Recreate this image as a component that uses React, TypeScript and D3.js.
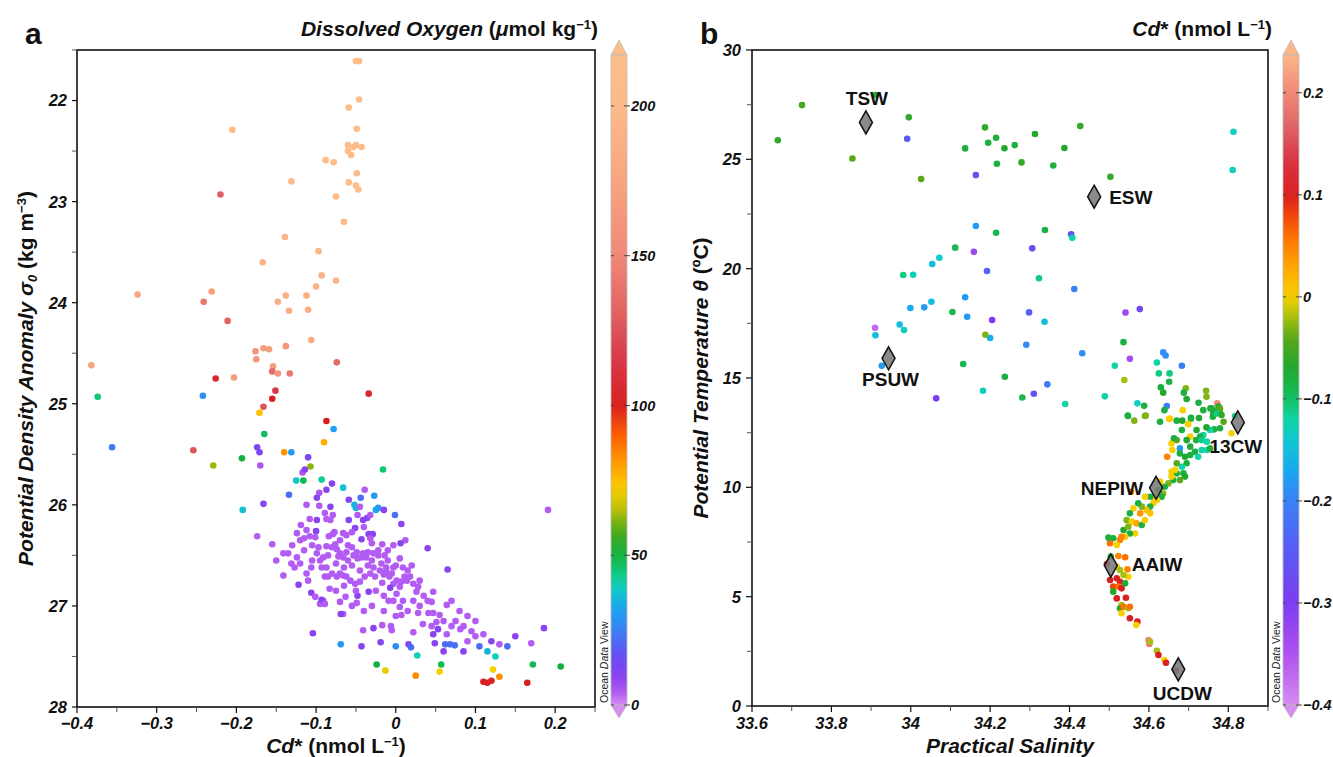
import React from 'react';
import * as d3 from 'd3';

// ---------------- DATA ----------------
// Panel a: [Cd* (nmol/L), sigma0 (kg/m3), dissolved O2 (umol/kg)]
const panelAPoints: [number, number, number][] = [
  [-0.050,21.61,216],[-0.046,21.61,216],[-0.046,21.99,214],[-0.059,22.07,213],[-0.205,22.29,205],[-0.049,22.28,212],
  [-0.060,22.44,210],[-0.050,22.44,211],[-0.053,22.46,210],[-0.043,22.46,212],[-0.060,22.50,209],[-0.056,22.54,208],
  [-0.088,22.59,205],[-0.078,22.61,206],[-0.049,22.72,208],[-0.131,22.80,200],[-0.059,22.81,206],[-0.050,22.84,207],
  [-0.047,22.88,206],[-0.220,22.93,130],[-0.075,22.95,204],[-0.065,23.20,200],[-0.139,23.35,195],[-0.097,23.49,196],
  [-0.167,23.60,190],[-0.093,23.73,192],[-0.075,23.78,193],[-0.100,23.84,190],[-0.324,23.92,178],[-0.231,23.89,172],
  [-0.138,23.93,188],[-0.112,23.93,188],[-0.241,23.99,140],[-0.148,23.99,186],[-0.134,24.08,185],[-0.110,24.07,186],
  [-0.211,24.18,132],[-0.106,24.37,185],[-0.176,24.48,160],[-0.166,24.45,168],[-0.159,24.46,170],[-0.138,24.43,162],
  [-0.175,24.56,162],[-0.382,24.62,175],[-0.154,24.63,170],[-0.155,24.68,135],[-0.148,24.70,160],[-0.133,24.70,142],
  [-0.074,24.59,135],[-0.203,24.74,168],[-0.226,24.75,105],[-0.151,24.87,115],[-0.155,24.95,100],[-0.166,25.03,125],
  [-0.034,24.90,105],[-0.374,24.93,45],[-0.242,24.92,28],[-0.171,25.09,75],[-0.087,25.17,100],[-0.078,25.25,32],
  [-0.165,25.30,47],[-0.090,25.38,78],[-0.356,25.43,24],[-0.254,25.46,125],[-0.174,25.43,12],[-0.171,25.48,12],
  [-0.140,25.48,82],[-0.131,25.48,30],[-0.110,25.53,12],[-0.193,25.54,50],
  [-0.229,25.61,63],[-0.170,25.61,5],[-0.107,25.62,62],[-0.117,25.68,5],[-0.114,25.65,10],[-0.016,25.65,45],
  [-0.125,25.76,38],[-0.116,25.76,48],[-0.093,25.75,42],[-0.080,25.79,10],[-0.087,25.85,10],[-0.066,25.83,37],
  [-0.096,25.88,5],[-0.039,25.85,4],[-0.027,25.91,30],[-0.134,25.90,22],[-0.099,25.93,10],[-0.059,25.95,10],
  [-0.044,25.93,22],[-0.052,26.00,35],[-0.050,26.03,35],[-0.045,26.02,4],[-0.025,26.05,33],[-0.022,26.03,30],
  [-0.015,26.05,10],[-0.192,26.05,37],[-0.166,25.99,10],[-0.112,26.00,4],[-0.096,26.01,4],[-0.082,26.02,10],
  [-0.001,26.10,22],[0.007,26.19,10],[-0.059,26.15,10],[-0.041,26.15,10],[-0.036,26.13,10],[-0.108,26.14,4],
  [-0.099,26.15,10],[-0.119,26.20,4],[-0.087,26.14,4],[-0.082,26.15,4],[-0.079,26.10,4],[-0.089,26.08,4],
  [-0.112,26.25,4],[-0.100,26.26,10],[-0.124,26.28,4],[-0.048,26.10,4],[-0.051,26.23,10],[-0.040,26.22,4],
  [-0.032,26.10,4],[-0.034,26.29,10],[-0.029,26.29,10],[-0.108,26.31,4],[-0.115,26.33,4],[-0.101,26.32,4],
  [-0.174,26.31,4],[-0.155,26.39,4],[-0.084,26.31,4],[-0.079,26.29,4],[-0.077,26.27,4],[-0.066,26.28,4],
  [-0.062,26.30,4],[-0.055,26.27,4],[-0.043,26.34,10],[-0.032,26.33,4],[0.012,26.35,4],[0.006,26.38,10],
  [-0.017,26.39,4],[-0.003,26.40,4],[0.040,26.43,10],
  [-0.087,26.41,4],[-0.080,26.42,4],[-0.076,26.39,4],[-0.074,26.44,4],[-0.070,26.48,4],[-0.072,26.51,4],
  [-0.066,26.52,4],[-0.062,26.47,4],[-0.060,26.55,4],[-0.055,26.42,4],[-0.053,26.50,4],[-0.049,26.47,4],
  [-0.048,26.53,4],[-0.043,26.52,4],[-0.041,26.48,4],[-0.037,26.52,4],[-0.035,26.47,4],[-0.028,26.48,4],
  [-0.022,26.45,4],[-0.022,26.50,4],[-0.014,26.50,4],[-0.018,26.58,4],[-0.012,26.62,4],[-0.012,26.66,4],
  [-0.005,26.68,4],[-0.003,26.62,4],[0.005,26.53,4],[0.009,26.62,4],[-0.097,26.42,4],[-0.099,26.48,4],
  [-0.091,26.52,4],[-0.093,26.62,4],[-0.087,26.62,4],[-0.089,26.71,4],[-0.080,26.68,4],[-0.074,26.71,4],
  [-0.070,26.68,4],[-0.066,26.70,4],[-0.062,26.71,4],[-0.057,26.75,4],[-0.051,26.78,4],[-0.045,26.76,4],
  [-0.039,26.71,4],[-0.032,26.68,4],[-0.028,26.62,4],[-0.026,26.71,4],[-0.017,26.77,4],[-0.015,26.69,4],
  [-0.008,26.71,4],[-0.003,26.78,4],[0.001,26.75,4],[0.005,26.81,4],[0.007,26.76,4],[0.011,26.71,4],
  [0.014,26.75,4],[0.018,26.71,4],[0.022,26.78,4],[0.026,26.86,4],[0.028,26.81,4],[0.022,26.95,4],
  [0.009,26.95,4],[0.005,27.01,4],[-0.003,26.95,4],[-0.009,26.95,4],[0.001,26.88,4],[-0.141,26.48,4],
  [-0.135,26.48,4],[-0.130,26.40,4],[-0.124,26.52,4],[-0.120,26.58,4],[-0.127,26.62,4],[-0.131,26.58,4],
  [-0.141,26.70,4],[-0.122,26.79,10],[-0.112,26.68,4],[-0.106,26.62,4],[-0.110,26.75,4],[-0.106,26.87,10],
  [-0.101,26.91,4],[-0.095,26.98,4],[-0.091,26.95,4],[-0.093,26.94,10],[-0.089,26.98,4],[-0.083,26.83,4],
  [-0.085,26.71,4],[-0.070,26.96,4],[-0.063,26.91,4],[-0.048,26.90,10],[-0.049,26.97,4],[-0.066,27.08,4],
  [-0.069,27.08,10],[-0.041,27.24,4],[-0.028,27.22,10],[-0.017,27.19,4],[-0.006,27.20,4],[-0.005,27.24,4],
  [0.007,27.09,4],[0.022,27.26,4],[0.028,27.07,4],[0.034,27.18,4],[0.041,27.07,4],[0.047,27.07,4],
  [0.055,27.09,4],[0.051,27.16,4],[0.047,27.28,10],[0.053,27.23,10],[0.064,27.28,4],[0.064,26.99,4],
  [0.065,26.64,10],[0.047,26.86,4],[0.045,26.96,4],[0.049,27.37,10],[0.062,27.38,22],[0.068,27.38,22],
  [0.074,27.39,22],[0.081,27.23,4],[0.027,27.49,40],[0.057,27.58,48],[0.055,27.65,72],[0.025,27.69,83],
  [-0.024,27.58,50],[-0.013,27.64,70],[-0.069,27.38,30],[-0.043,27.40,10],[-0.019,27.36,10],[0.000,27.40,28],
  [0.016,27.38,10],[0.019,27.41,22],[-0.104,27.27,10],[-0.034,26.86,10],[-0.007,26.82,10],
  [0.070,26.95,4],[0.080,27.05,4],[0.090,27.10,4],[0.085,27.20,4],[0.095,27.25,4],[0.100,27.30,4],
  [0.110,27.28,4],[0.120,27.35,10],[0.105,27.40,22],[0.130,27.38,4],[0.140,27.40,22],[0.115,27.45,35],
  [0.125,27.50,40],[0.090,27.35,4],[0.075,27.15,4],[0.100,27.15,4],[0.060,27.45,10],[0.170,27.37,4],
  [0.150,27.30,10],[0.186,27.22,10],[0.191,26.05,4],[0.172,27.58,48],[0.207,27.60,50],[0.165,27.76,100],
  [0.130,27.70,83],[0.122,27.63,72],[0.110,27.75,100],[0.115,27.76,100],[0.120,27.74,100],[0.085,27.45,10],
  [-0.120,26.35,4],[-0.115,26.45,4],[-0.105,26.40,4],[-0.095,26.55,4],[-0.085,26.50,4],[-0.075,26.58,4],
  [-0.065,26.62,4],[-0.055,26.60,4],[-0.045,26.65,4],[-0.035,26.60,4],[-0.030,26.55,4],[-0.020,26.65,4],
  [-0.010,26.55,4],[0.000,26.60,4],[0.015,26.65,4],[0.020,26.60,4],[0.030,26.75,4],[0.035,26.90,4],
  [0.040,26.95,4],[0.030,27.00,4],[0.015,27.05,4],[0.000,27.10,4],[-0.015,27.05,4],[-0.030,27.00,4],
  [-0.040,27.05,4],[-0.055,27.00,4],[-0.075,26.85,4],[-0.065,26.80,4],[-0.050,26.85,4],[-0.025,26.85,4],
  [-0.015,26.90,4],[0.045,27.20,4],[0.060,27.15,4],[0.070,27.20,4],[-0.060,26.40,4],[-0.070,26.35,4],
  [-0.030,26.38,4],[-0.010,26.45,4],[-0.150,26.55,4],[-0.105,26.55,4],
];

// Panel b: [practical salinity, potential temperature (degC), Cd* (nmol/L)]
const panelBPoints: [number, number, number][] = [
  [33.665,25.87,-0.06],[33.726,27.48,-0.05],[33.853,25.04,-0.04],[33.912,27.94,-0.07],[33.995,26.92,-0.06],
  [33.991,25.94,-0.25],[34.026,24.10,-0.04],[34.137,25.50,-0.08],[34.187,26.46,-0.06],[34.195,25.76,-0.08],
  [34.215,25.99,-0.08],[34.236,25.51,-0.07],[34.217,24.80,-0.08],[34.164,24.28,-0.26],[34.164,21.95,-0.18],
  [34.215,21.64,-0.09],[34.112,20.96,-0.09],[34.159,20.77,-0.33],[34.072,20.50,-0.14],[34.054,20.21,-0.15],
  [34.192,19.89,-0.24],[33.981,19.71,-0.11],[34.006,19.72,-0.13],[34.137,18.69,-0.18],[34.052,18.49,-0.15],
  [34.034,18.23,-0.18],[33.999,18.20,-0.17],[34.105,18.02,-0.09],[34.142,17.80,-0.18],[34.205,17.65,-0.30],
  [33.972,17.45,-0.15],[33.983,17.19,-0.13],[33.910,17.30,-0.37],[33.911,16.95,-0.15],[34.188,16.98,-0.03],
  [34.200,16.83,-0.16],[33.927,15.56,-0.18],[34.132,15.64,-0.09],[34.237,15.06,-0.08],[34.182,14.42,-0.13],
  [34.064,14.07,-0.30],
  [34.427,26.52,-0.06],[34.313,26.16,-0.07],[34.262,25.65,-0.08],[34.387,25.52,-0.07],[34.279,24.86,-0.06],
  [34.359,24.72,-0.08],[34.503,24.20,-0.06],[34.813,26.26,-0.13],[34.811,24.51,-0.13],[34.338,21.77,-0.08],
  [34.404,21.57,-0.27],[34.407,21.41,-0.12],[34.306,20.93,-0.27],[34.323,19.56,-0.11],[34.412,19.07,-0.20],
  [34.298,18.00,-0.24],[34.337,17.57,-0.15],[34.541,17.99,-0.33],[34.577,18.15,-0.28],[34.536,16.64,-0.08],
  [34.291,16.52,-0.19],[34.432,16.13,-0.19],[34.552,15.88,-0.34],[34.636,16.17,-0.19],[34.642,16.03,-0.19],
  [34.683,15.56,-0.20],[34.620,15.71,-0.12],[34.514,15.56,-0.12],[34.538,14.91,-0.02],[34.625,15.21,-0.11],
  [34.652,15.21,-0.11],[34.651,14.83,-0.08],[34.344,14.71,-0.21],[34.310,14.28,-0.26],[34.281,14.11,-0.09],
  [34.389,13.81,-0.12],[34.489,14.16,-0.12],[34.630,14.57,-0.08],[34.636,14.33,-0.07],[34.693,14.53,-0.03],
  [34.688,14.33,-0.08],[34.695,14.04,-0.07],[34.725,13.87,-0.08],[34.744,14.42,-0.03],[34.745,14.14,-0.03],
  [34.772,13.84,0.20],[34.571,13.84,-0.13],[34.588,13.73,-0.08],[34.645,13.72,-0.20],[34.685,13.53,0.00],
  [34.639,13.53,-0.08],[34.547,13.28,-0.08],[34.592,13.28,-0.03],[34.653,13.15,0.00],[34.706,13.18,-0.08],
  [34.737,13.53,-0.08],[34.755,13.61,-0.07],[34.762,13.38,-0.08],[34.779,13.41,-0.08],[34.775,13.69,-0.07],
  [34.547,13.26,-0.08],[34.563,13.05,-0.03],[34.590,13.26,-0.03],[34.628,13.00,-0.08],[34.651,13.12,0.00],
  [34.670,13.05,-0.08],[34.684,13.05,-0.07],[34.706,13.14,-0.08],[34.726,13.17,-0.07],[34.758,13.61,-0.08],
  [34.767,13.46,-0.07],[34.779,13.61,-0.04],[34.761,13.23,-0.08],[34.771,13.38,-0.11],[34.783,13.31,-0.06],
  [34.788,13.00,-0.04],[34.817,13.26,-0.12],[34.808,12.47,0.00],[34.779,12.70,-0.08],[34.764,12.65,-0.08],
  [34.754,12.62,-0.12],[34.745,12.74,-0.07],[34.737,12.39,-0.12],[34.729,12.32,-0.08],[34.720,12.62,-0.07],
  [34.719,12.16,-0.08],[34.733,12.16,-0.11],[34.746,12.09,-0.12],[34.704,12.32,0.00],[34.695,12.16,-0.07],
  [34.683,12.62,-0.08],[34.670,12.16,-0.04],[34.657,12.01,0.00],[34.663,12.24,-0.08],[34.678,11.78,-0.18],
  [34.704,11.86,-0.08],[34.716,11.63,-0.08],[34.733,11.71,-0.12],[34.746,11.71,-0.12],[34.754,11.78,-0.08],
  [34.724,11.40,-0.12],[34.704,11.48,-0.08],[34.691,11.40,-0.07],[34.678,11.55,-0.08],[34.646,11.40,0.05],
  [34.695,11.10,-0.08],[34.683,10.94,-0.12],[34.670,11.10,-0.04],[34.657,10.72,0.00],[34.670,10.64,-0.08],
  [34.687,10.64,-0.08],[34.691,10.49,-0.07],[34.678,10.33,-0.04],[34.661,10.33,-0.08],[34.649,10.18,-0.03],
  [34.657,10.49,0.00],[34.640,10.03,-0.08],[34.636,9.72,-0.03],[34.632,9.57,-0.08],[34.620,9.42,0.00],
  [34.611,9.27,0.00],[34.603,9.12,-0.08],[34.594,8.96,0.01],[34.582,9.12,-0.03],[34.573,9.27,-0.08],
  [34.561,9.04,0.00],[34.552,8.81,-0.08],[34.544,8.50,-0.03],[34.557,8.43,0.00],[34.569,8.35,0.03],
  [34.582,8.28,-0.08],[34.590,8.50,0.00],[34.603,8.81,0.01],[34.611,9.57,0.00],[34.578,8.81,0.04],
  [34.565,7.89,0.00],[34.552,7.89,-0.08],[34.540,7.74,0.00],[34.531,7.74,0.05],[34.527,7.59,0.05],
  [34.510,7.67,-0.08],[34.502,7.44,0.06],[34.519,7.36,0.00],[34.536,8.05,-0.07],[34.548,8.20,-0.03],
  [34.555,9.80,0.05],[34.628,10.26,0.00],[34.666,10.79,0.00],[34.699,12.89,0.00],[34.659,11.71,0.00],
  [34.603,9.57,-0.08],[34.590,9.57,0.00],[34.624,9.88,-0.08],[34.498,7.70,-0.08],
  [34.494,6.49,0.10],[34.504,6.83,-0.08],[34.523,6.86,0.05],[34.540,6.80,0.06],[34.519,6.37,0.00],
  [34.527,6.22,-0.02],[34.546,6.25,0.05],[34.548,5.91,0.00],[34.536,5.99,-0.02],[34.502,5.76,0.10],
  [34.519,5.84,0.10],[34.527,5.68,0.10],[34.510,5.46,0.08],[34.523,5.46,0.06],[34.531,5.38,0.10],
  [34.540,5.61,-0.07],[34.510,5.23,-0.07],[34.519,4.92,0.10],[34.542,4.95,0.10],[34.531,4.62,-0.02],
  [34.527,4.47,-0.06],[34.536,4.54,0.06],[34.548,4.47,-0.02],[34.552,4.54,0.06],[34.531,4.24,0.00],
  [34.552,4.01,0.10],[34.571,3.86,0.10],[34.568,3.70,0.00],[34.599,3.02,0.20],[34.601,2.84,0.19],
  [34.603,2.94,-0.02],[34.620,2.53,-0.02],[34.624,2.33,0.10],[34.639,2.10,0.00],[34.643,1.98,0.10],
  [34.668,1.61,0.10],
];

// Water masses: name, salinity, potential temperature
const waterMassNames = ['TSW', 'PSUW', 'ESW', '13CW', 'NEPIW', 'AAIW', 'UCDW'];
const waterMassSal = [33.887, 33.944, 34.462, 34.824, 34.618, 34.504, 34.674];
const waterMassTheta = [26.69, 15.9, 23.29, 12.97, 9.98, 6.42, 1.675];

// Ticks
const xTicksA = [-0.4, -0.3, -0.2, -0.1, 0, 0.1, 0.2];
const xMinorA = [-0.35, -0.25, -0.15, -0.05, 0.05, 0.15, 0.25];
const yTicksA = [22, 23, 24, 25, 26, 27, 28];
const yMinorA = [21.5, 22.5, 23.5, 24.5, 25.5, 26.5, 27.5];
const xTicksB = [33.6, 33.8, 34, 34.2, 34.4, 34.6, 34.8];
const xMinorB = [33.7, 33.9, 34.1, 34.3, 34.5, 34.7, 34.9];
const yTicksB = [0, 5, 10, 15, 20, 25, 30];
const yMinorB = [2.5, 7.5, 12.5, 17.5, 22.5, 27.5];
const o2BarTicks = [0, 50, 100, 150, 200];
const cdBarTicks = [-0.4, -0.3, -0.2, -0.1, 0, 0.1, 0.2];

// Palettes
const o2Stops = [0, 4, 9, 15, 25, 33, 40, 45, 50, 58, 65, 72, 80, 90, 100, 115, 130, 150, 175, 200, 218];
const o2Colors = ['#d68cf2','#b35cf3','#8e44f0','#6d45f2','#3a80f5','#18a8f0','#10d0b8','#10c870','#12b040','#4aa818','#b8c008','#f8d000','#ffa000','#ff6000','#d82020','#d83848','#e06060','#f08878','#f8a580','#fdba88','#fdbf8a'];
const cdStops = [-0.4,-0.35,-0.3,-0.25,-0.2,-0.17,-0.14,-0.12,-0.1,-0.07,-0.04,-0.02,0,0.03,0.06,0.09,0.1,0.13,0.17,0.2,0.24];
const cdColors = ['#d68cf2','#b050f0','#7d3cf0','#5a5af5','#3a80f5','#18a8f0','#10c8d0','#10d4a8','#12c060','#22a830','#58a818','#a8c010','#f8d000','#ffa500','#ff7000','#e83010','#d82020','#d83040','#e06868','#f08878','#fdba88'];

// ---------------- LAYOUT ----------------
const FONT = '"Liberation Sans", Arial, Helvetica, sans-serif';
const A = { l: 77, r: 595, t: 50, b: 707 };
const B = { l: 752, r: 1268, t: 50, b: 706 };

const labelPlacement: Record<string, { dx: number; dy: number; anchor: string }> = {
  TSW: { dx: 1, dy: -17, anchor: 'middle' },
  PSUW: { dx: 2, dy: 28, anchor: 'middle' },
  ESW: { dx: 15, dy: 7, anchor: 'start' },
  '13CW': { dx: -2, dy: 31, anchor: 'middle' },
  NEPIW: { dx: -13, dy: 7, anchor: 'end' },
  AAIW: { dx: 21, dy: 5, anchor: 'start' },
  UCDW: { dx: 4, dy: 31, anchor: 'middle' },
};

const fmt = (v: number) => {
  const s = String(Math.round(v * 1000) / 1000);
  return s.replace('-', '\u2212');
};

function Frame({ box }: { box: { l: number; r: number; t: number; b: number } }) {
  return (
    <rect x={box.l} y={box.t} width={box.r - box.l} height={box.b - box.t}
      fill="none" stroke="#111" strokeWidth={1.6} />
  );
}

function ColorBar({ x, id, lo, hi, stops, colors, ticks, format }: {
  x: number; id: string; lo: number; hi: number; stops: number[]; colors: string[]; ticks: number[];
  format: (v: number) => string;
}) {
  const w = 16, top = 55, bot = 705;
  const sc = d3.scaleLinear().domain([lo, hi]).range([bot, top]);
  const col = d3.scaleLinear<string>().domain(stops).range(colors).interpolate(d3.interpolateRgb).clamp(true);
  const gStops = d3.range(0, 1.0001, 0.02).map((f) => ({ f, c: col(lo + f * (hi - lo)) }));
  const cx = x + w / 2;
  return (
    <g>
      <defs>
        <linearGradient id={id} x1="0" y1="1" x2="0" y2="0">
          {gStops.map((s, i) => <stop key={i} offset={s.f} stopColor={s.c} />)}
        </linearGradient>
      </defs>
      <path d={`M${x},${top} L${cx},${top - 15} L${x + w},${top} Z`} fill={col(hi)} stroke="#bbb" strokeWidth={0.8} />
      <path d={`M${x},${bot} L${cx},${bot + 13} L${x + w},${bot} Z`} fill={col(lo)} stroke="#bbb" strokeWidth={0.8} />
      <rect x={x} y={top} width={w} height={bot - top} fill={`url(#${id})`} stroke="#bbb" strokeWidth={0.8} />
      {ticks.map((t) => (
        <g key={t}>
          <line x1={x} x2={x + 3} y1={sc(t)} y2={sc(t)} stroke="#444" strokeWidth={1} />
          <line x1={x + w - 3} x2={x + w + 3} y1={sc(t)} y2={sc(t)} stroke="#444" strokeWidth={1} />
          <text x={x + w + 4} y={sc(t)} dy="0.36em" fontSize={14.5} fontWeight="bold" fontStyle="italic"
            fontFamily={FONT} fill="#111">{format(t)}</text>
        </g>
      ))}
      <text transform={`translate(${x - 3},${bot - 2}) rotate(-90)`} fontSize={10.5} fontFamily={FONT} fill="#222">
        Ocean <tspan fontStyle="italic">Data</tspan> View
      </text>
    </g>
  );
}

export default function App() {
  const xA = d3.scaleLinear().domain([-0.4, 0.25]).range([A.l, A.r]);
  const yA = d3.scaleLinear().domain([21.5, 28]).range([A.t, A.b]);
  const xB = d3.scaleLinear().domain([33.6, 34.9]).range([B.l, B.r]);
  const yB = d3.scaleLinear().domain([0, 30]).range([B.b, B.t]);
  const colO2 = d3.scaleLinear<string>().domain(o2Stops).range(o2Colors).interpolate(d3.interpolateRgb).clamp(true);
  const colCd = d3.scaleLinear<string>().domain(cdStops).range(cdColors).interpolate(d3.interpolateRgb).clamp(true);

  const tickText = { fontSize: 16.5, fontWeight: 'bold' as const, fontStyle: 'italic' as const, fontFamily: FONT, fill: '#111' };
  const axisTitle = { fontSize: 21, fontWeight: 'bold' as const, fontFamily: FONT, fill: '#111' };
  const r = 3.3;

  return (
    <svg width={1333} height={757} style={{ position: 'absolute', left: 0, top: 0, background: '#fff' }}
      fontFamily={FONT}>
      <rect x={0} y={0} width={1333} height={757} fill="#fff" />

      {/* ---------- Panel a ---------- */}
      <text x={25} y={44} fontSize={30} fontWeight="bold" fontFamily={FONT} fill="#111">a</text>
      <text x={598} y={36} textAnchor="end" {...axisTitle}>
        <tspan fontStyle="italic">Dissolved Oxygen</tspan> (<tspan fontStyle="italic">μ</tspan>mol kg
        <tspan dy={-7} fontSize={13}>−1</tspan><tspan dy={7}>)</tspan>
      </text>
      {panelAPoints.map(([cd, s, o], i) => (
        <circle key={i} cx={xA(cd)} cy={yA(s)} r={r} fill={colO2(o)} />
      ))}
      <Frame box={A} />
      {xTicksA.map((t) => (
        <g key={t}>
          <line x1={xA(t)} x2={xA(t)} y1={A.b} y2={A.b + 6} stroke="#111" strokeWidth={1.2} />
          <text x={xA(t)} y={A.b + 22} textAnchor="middle" {...tickText}>{fmt(t)}</text>
        </g>
      ))}
      {xMinorA.map((t) => (
        <line key={t} x1={xA(t)} x2={xA(t)} y1={A.b} y2={A.b + 5} stroke="#555" strokeWidth={1} />
      ))}
      {yTicksA.map((t) => (
        <g key={t}>
          <line x1={A.l - 5} x2={A.l} y1={yA(t)} y2={yA(t)} stroke="#111" strokeWidth={1.2} />
          <text x={A.l - 10} y={yA(t)} dy="0.36em" textAnchor="end" {...tickText}>{fmt(t)}</text>
        </g>
      ))}
      {yMinorA.map((t) => (
        <line key={t} x1={A.l - 5} x2={A.l} y1={yA(t)} y2={yA(t)} stroke="#555" strokeWidth={1} />
      ))}
      <text x={(A.l + A.r) / 2} y={753} textAnchor="middle" {...axisTitle}>
        <tspan fontStyle="italic">Cd</tspan>* (nmol L<tspan dy={-7} fontSize={13}>−1</tspan><tspan dy={7}>)</tspan>
      </text>
      <text transform={`translate(33,${(A.t + A.b) / 2}) rotate(-90)`} textAnchor="middle" {...axisTitle}>
        <tspan fontStyle="italic">Potential Density Anomaly σ</tspan>
        <tspan dy={4} fontSize={13} fontStyle="italic">0</tspan>
        <tspan dy={-4}> (kg m</tspan><tspan dy={-7} fontSize={13}>−3</tspan><tspan dy={7}>)</tspan>
      </text>
      <ColorBar x={611} id="gradO2" lo={0} hi={217} stops={o2Stops} colors={o2Colors} ticks={o2BarTicks}
        format={(v) => String(v)} />

      {/* ---------- Panel b ---------- */}
      <text x={700} y={44} fontSize={30} fontWeight="bold" fontFamily={FONT} fill="#111">b</text>
      <text x={1272} y={36} textAnchor="end" {...axisTitle}>
        <tspan fontStyle="italic">Cd</tspan>* (nmol L<tspan dy={-7} fontSize={13}>−1</tspan><tspan dy={7}>)</tspan>
      </text>
      {panelBPoints.map(([s, th, cd], i) => (
        <circle key={i} cx={xB(s)} cy={yB(th)} r={r} fill={colCd(cd)} />
      ))}
      {waterMassNames.map((n, i) => {
        const px = xB(waterMassSal[i]);
        const py = yB(waterMassTheta[i]);
        const lp = labelPlacement[n];
        return (
          <g key={n}>
            <path d={`M${px},${py - 11.5} L${px + 6.5},${py} L${px},${py + 11.5} L${px - 6.5},${py} Z`}
              fill="#7a7a7a" fillOpacity={0.88} stroke="#111" strokeWidth={1.5} />
            <text x={px + lp.dx} y={py + lp.dy} textAnchor={lp.anchor as any} fontSize={19} fontWeight="bold"
              fontFamily={FONT} fill="#111">{n}</text>
          </g>
        );
      })}
      <Frame box={B} />
      {xTicksB.map((t) => (
        <g key={t}>
          <line x1={xB(t)} x2={xB(t)} y1={B.b} y2={B.b + 6} stroke="#111" strokeWidth={1.2} />
          <text x={xB(t)} y={B.b + 23} textAnchor="middle" {...tickText}>{fmt(t)}</text>
        </g>
      ))}
      {xMinorB.map((t) => (
        <line key={t} x1={xB(t)} x2={xB(t)} y1={B.b} y2={B.b + 5} stroke="#555" strokeWidth={1} />
      ))}
      {yTicksB.map((t) => (
        <g key={t}>
          <line x1={B.l - 6} x2={B.l} y1={yB(t)} y2={yB(t)} stroke="#111" strokeWidth={1.2} />
          <text x={B.l - 11} y={yB(t)} dy="0.36em" textAnchor="end" {...tickText}>{fmt(t)}</text>
        </g>
      ))}
      {yMinorB.map((t) => (
        <line key={t} x1={B.l - 5} x2={B.l} y1={yB(t)} y2={yB(t)} stroke="#555" strokeWidth={1} />
      ))}
      <text x={(B.l + B.r) / 2} y={753} textAnchor="middle" {...axisTitle} fontStyle="italic">Practical Salinity</text>
      <text transform={`translate(708,${(B.t + B.b) / 2}) rotate(-90)`} textAnchor="middle" {...axisTitle}>
        <tspan fontStyle="italic">Potential Temperature θ</tspan> (ºC)
      </text>
      <ColorBar x={1283} id="gradCd" lo={-0.4} hi={0.237} stops={cdStops} colors={cdColors} ticks={cdBarTicks}
        format={fmt} />
    </svg>
  );
}
